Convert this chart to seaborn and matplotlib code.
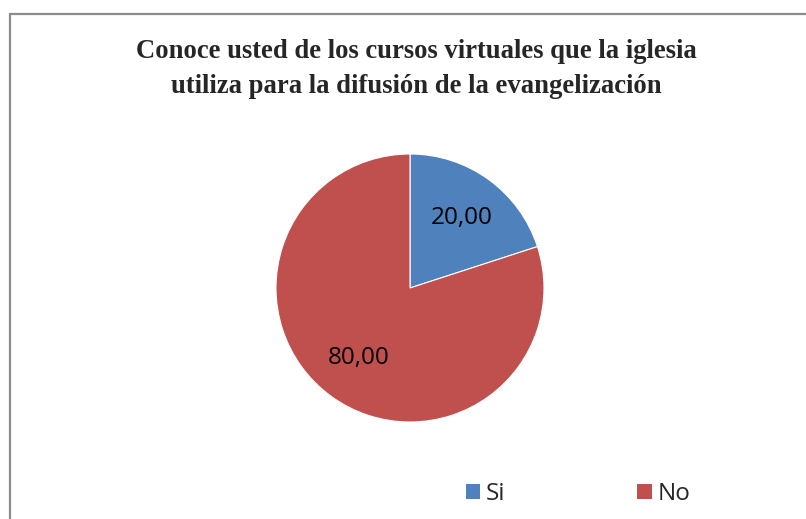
import matplotlib
matplotlib.use("Agg")
import matplotlib.pyplot as plt
import seaborn as sns
from matplotlib.patches import Rectangle

sns.set_style("white")

# data
categories = ["Si", "No"]
values = [20.0, 80.0]
colors = ["#4F81BD", "#C0504D"]
title = "Conoce usted de los cursos virtuales que la iglesia\nutiliza para la difusión de la evangelización"

W, H = 806, 519
fig = plt.figure(figsize=(W / 100, H / 100), dpi=100)

# outer frame of the chart area (cut by the image on right and bottom)
fig.patches.append(Rectangle((9.5 / W, -0.1), 1.2, (H - 13.5) / H + 0.1,
                             transform=fig.transFigure, fill=False,
                             edgecolor="#8c8c8c", linewidth=1.6))

fig.text(416 / W, 1 - 69 / H, title, ha="center", va="center",
         multialignment="center", fontsize=19.2, fontweight="bold",
         family=["Liberation Serif", "DejaVu Serif"], linespacing=1.5)

# pie centre (410, 288), radius 134 px
cx, cy, r = 410, 288, 134
ax = fig.add_axes([(cx - r) / W, (H - cy - r) / H, 2 * r / W, 2 * r / H])

wedges, texts, autotexts = ax.pie(
    values, colors=colors, startangle=90, counterclock=False,
    autopct=lambda p: f"{p:.2f}".replace(".", ","), pctdistance=0.65,
    wedgeprops=dict(linewidth=0.8, edgecolor="white"),
    textprops=dict(fontsize=17.5, color="black", family=["Open Sans", "DejaVu Sans"]))
for w in wedges:
    w.set_clip_on(False)
ax.set_xlim(-1, 1)
ax.set_ylim(-1, 1)
ax.set_aspect("equal")
ax.axis("off")

handles = [Rectangle((0, 0), 1, 1, facecolor=c, edgecolor="none") for c in colors]
fig.legend(handles, categories, loc="center", bbox_to_anchor=(578 / W, 1 - 494 / H),
           ncol=2, frameon=False, handlelength=0.6, handleheight=0.6,
           handletextpad=0.25, columnspacing=5.4,
           prop=dict(size=17.5, family=["Open Sans", "DejaVu Sans"]))

fig.savefig("out.png", dpi=100)
